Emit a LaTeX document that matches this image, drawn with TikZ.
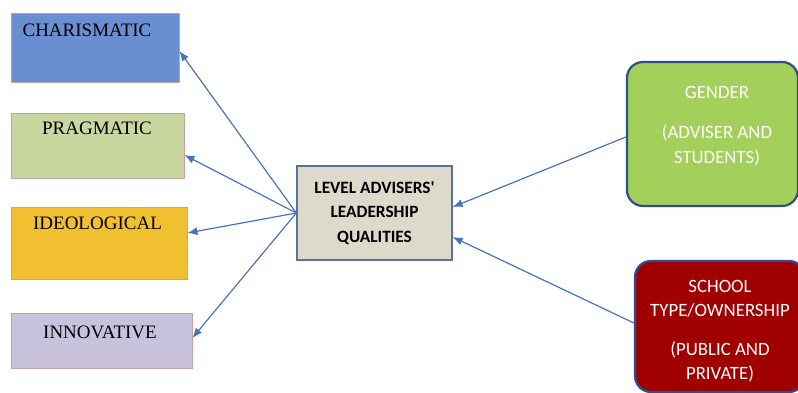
\documentclass[tikz,border=0pt]{standalone}
\usepackage{fontspec}
\setmainfont{Liberation Serif}
\newfontfamily\calib{Carlito}
\usetikzlibrary{arrows.meta}
\definecolor{charblue}{HTML}{698ED2}
\definecolor{pragreen}{HTML}{C9D6A0}
\definecolor{ideoyellow}{HTML}{F0C030}
\definecolor{innolilac}{HTML}{C9C2DD}
\definecolor{qualgray}{HTML}{DDDACB}
\definecolor{gengreen}{HTML}{A3CF5B}
\definecolor{schoolred}{HTML}{A00000}
\definecolor{edgeblue}{HTML}{2E4F8C}
\definecolor{linkblue}{HTML}{4A74B8}
\definecolor{rosy}{HTML}{C9A0A0}
\begin{document}
\begin{tikzpicture}[x=1pt, y=-1pt]
 \tikzset{directed/.style={-{Latex[length=10pt,width=8pt]}}}
 \tikzset{leftbox/.style={draw=rosy, line width=0.8pt, inner sep=0pt}}
 \tikzset{factor/.style={draw=edgeblue, line width=2.2pt, rounded corners=16pt, inner sep=0pt}}
  \clip (0,0) rectangle (798,393);
  \fill[white] (0,0) rectangle (798,393);
  % qualities on the left
  \node[leftbox, fill=charblue, minimum width=168pt, minimum height=69pt] (L1) at (95,47.5) {};
  \node[leftbox, fill=pragreen, minimum width=173pt, minimum height=65pt] (L2) at (97.5,145.5) {};
  \node[leftbox, fill=ideoyellow, minimum width=176pt, minimum height=72pt] (L3) at (99,243) {};
  \node[leftbox, fill=innolilac, minimum width=181pt, minimum height=55pt] (L4) at (101.5,340.5) {};
  \node[font=\fontsize{19}{21}\selectfont] (T1) at (87,30) {CHARISMATIC};
  \node[font=\fontsize{19}{21}\selectfont] (T2) at (97,128) {PRAGMATIC};
  \node[font=\fontsize{19}{21}\selectfont] (T3) at (97.5,223) {IDEOLOGICAL};
  \node[font=\fontsize{19}{21}\selectfont] (T4) at (100,332) {INNOVATIVE};
  % center
  \node[draw=edgeblue!80, line width=1.3pt, fill=qualgray, minimum width=155pt, minimum height=94pt,
    align=center, font=\calib\bfseries\fontsize{17.3}{24.5}\selectfont] (Q) at (374.5,213)
    {LEVEL ADVISERS'\\LEADERSHIP\\QUALITIES};
  % factors on the right
  \node[factor, fill=gengreen, minimum width=171pt, minimum height=144pt] (F1) at (712.5,134) {};
  \node[factor, fill=schoolred, minimum width=170pt, minimum height=131pt] (F2) at (720,326.5) {};
  \node[align=center, text=white, font=\calib\fontsize{18.8}{25}\selectfont] (G1) at (717,126)
    {GENDER\\[15pt](ADVISER AND\\STUDENTS)};
  \node[align=center, text=white, font=\calib\fontsize{18.8}{23.5}\selectfont] (S1) at (720,331)
    {SCHOOL\\TYPE/OWNERSHIP\\[16pt](PUBLIC AND\\PRIVATE)};
  % links
  \draw[linkblue, line width=1.2pt, directed] (Q.west) -- ([yshift=-3.5pt]L1.east);
  \draw[linkblue, line width=1.2pt, directed] (Q.west) -- ([yshift=-9.5pt]L2.east);
  \draw[linkblue, line width=1.2pt, directed] (Q.west) -- ([yshift=10pt]L3.east);
  \draw[linkblue, line width=1.2pt, directed] (Q.west) -- ([yshift=2.5pt]L4.east);
  \draw[linkblue, line width=1.2pt, directed] ([yshift=-3pt]F1.west) -- ([yshift=6pt]Q.east);
  \draw[linkblue, line width=1.2pt, directed] ([yshift=3.5pt]F2.west) -- ([yshift=-24pt]Q.east);
\end{tikzpicture}
\end{document}
